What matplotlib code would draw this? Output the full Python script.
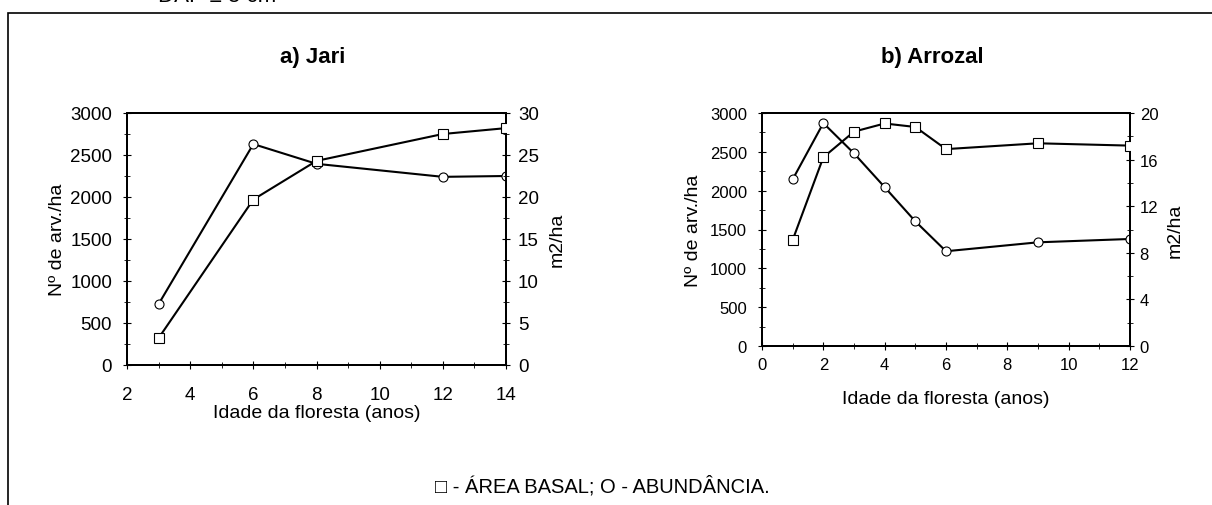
import matplotlib
matplotlib.use("Agg")
import matplotlib.pyplot as plt
from matplotlib.ticker import MultipleLocator
from matplotlib.patches import Rectangle

plt.rcParams["font.family"] = ["Liberation Sans", "DejaVu Sans"]

# ── data ────────────────────────────────────────────────────────────────────
# a) Jari
jari_age = [3, 6, 8, 12, 14]
jari_abund = [725, 2630, 2395, 2240, 2250]          # Nº de arv./ha  (circles)
jari_basal = [3.2, 19.7, 24.3, 27.5, 28.2]          # m2/ha          (squares)

# b) Arrozal
arroz_age = [1, 2, 3, 4, 5, 6, 9, 12]
arroz_abund = [2145, 2870, 2480, 2045, 1605, 1220, 1335, 1378]
arroz_basal = [9.1, 16.2, 18.4, 19.1, 18.8, 16.9, 17.4, 17.2]

W, H = 1212, 506
fig = plt.figure(figsize=(W / 100, H / 100), dpi=100)


def px_axes(left, top, right, bottom):
    return fig.add_axes([left / W, 1 - bottom / H, (right - left) / W, (bottom - top) / H])


def style(ax, fs):
    for s in ax.spines.values():
        s.set_linewidth(1.4)
    ax.tick_params(which="major", direction="inout", length=6, width=0.8, labelsize=fs)
    ax.tick_params(which="minor", direction="inout", length=4, width=0.6)


def panel(box, age, abund, basal, xlim, ymax_r, rmaj, rminor, title, title_x,
          fs, pads, lab_x, xlab_y):
    left, top, right, bottom = box
    w, h = right - left, bottom - top
    ax = px_axes(*box)
    ax.plot(age, abund, color="black", lw=1.5, marker="o", ms=6.5,
            mfc="white", mec="black", mew=0.8, zorder=3)
    ax.set_xlim(*xlim)
    ax.set_ylim(0, 3000)
    ax.xaxis.set_major_locator(MultipleLocator(2))
    ax.xaxis.set_minor_locator(MultipleLocator(1))
    ax.yaxis.set_major_locator(MultipleLocator(500))
    ax.yaxis.set_minor_locator(MultipleLocator(250))
    style(ax, fs)
    ax.tick_params(axis="y", which="major", pad=pads[0])
    ax.tick_params(axis="x", which="major", pad=pads[1])
    ax.set_ylabel("Nº de arv./ha", fontsize=14, va="center")
    ax.yaxis.set_label_coords((lab_x[0] - left) / w, 0.5)
    ax.set_xlabel("Idade da floresta (anos)", fontsize=14, va="center")
    ax.xaxis.set_label_coords(0.5, -(xlab_y - bottom) / h)

    ax2 = ax.twinx()
    ax2.plot(age, basal, color="black", lw=1.5, marker="s", ms=6.5,
             mfc="white", mec="black", mew=0.8, zorder=3)
    ax2.set_ylim(0, ymax_r)
    ax2.yaxis.set_major_locator(MultipleLocator(rmaj))
    ax2.yaxis.set_minor_locator(MultipleLocator(rminor))
    style(ax2, fs)
    ax2.tick_params(axis="y", which="major", pad=pads[2])
    ax2.set_ylabel("m2/ha", fontsize=14, va="center")
    ax2.yaxis.set_label_coords((lab_x[1] - left) / w, 0.5)

    fig.text(title_x / W, 1 - 58 / H, title, fontsize=16, fontweight="bold",
             ha="center", va="center")
    return ax, ax2


panel((127, 114, 506, 366), jari_age, jari_abund, jari_basal,
      (2, 14), 30, 5, 2.5, "a) Jari", 313,
      13.5, (7.8, 12, 5.6), (57, 557), 414)
panel((762, 114, 1130, 347), arroz_age, arroz_abund, arroz_basal,
      (0, 12), 20, 4, 2, "b) Arrozal", 932,
      12, (7.8, 5, 4), (694, 1175), 400)

# outer frame of the original figure
fig.add_artist(Rectangle((8 / W, -0.05), 1.2, 1 - 13.5 / H + 0.05,
                         transform=fig.transFigure, fill=False,
                         edgecolor="black", lw=1.2))

fig.text(158 / W, 1 - 2 / H, "DAP ≥ 5 cm", fontsize=16, va="baseline", ha="left")

fig.text(602 / W, 1 - 486 / H, "□ - ÁREA BASAL; O - ABUNDÂNCIA.",
         fontsize=14.5, ha="center", va="center")

fig.savefig("out.png", dpi=100)
